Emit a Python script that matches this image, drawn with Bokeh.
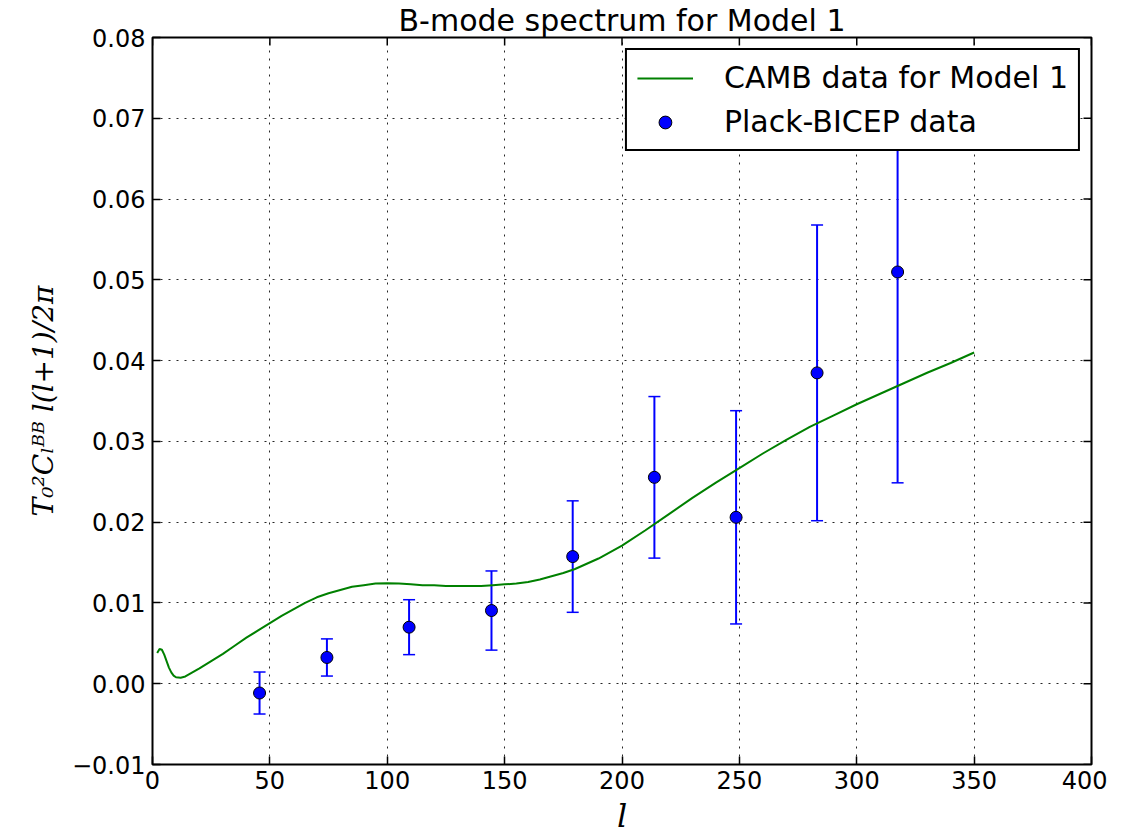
import math
from bokeh.plotting import figure
from bokeh.models import (ColumnDataSource, Whisker, TeeHead, FixedTicker,
                          CustomJSTickFormatter, Range1d, Legend, LegendItem)
from bokeh.embed import file_html
from bokeh.resources import INLINE

# CAMB theory curve for Model 1
camb_l = [2, 3, 4, 5, 6, 7, 8, 9, 10, 12, 14, 17, 20, 25, 30, 35, 40, 45, 50, 55, 60, 65,
          70, 75, 80, 85, 90, 95, 100, 105, 110, 115, 120, 125, 130, 135, 140, 145, 150,
          155, 160, 165, 170, 175, 180, 190, 200, 210, 220, 230, 240, 250, 260, 270, 280,
          290, 300, 310, 320, 330, 340, 350]
camb_dl = [0.0038, 0.0043, 0.0042, 0.0036, 0.0028, 0.0020, 0.0014, 0.0010, 0.0008, 0.00075,
           0.0009, 0.0014, 0.0019, 0.0028, 0.0037, 0.0047, 0.0057, 0.0066, 0.0075, 0.0084,
           0.0092, 0.0100, 0.0107, 0.0112, 0.0116, 0.0120, 0.0122, 0.0124, 0.01245, 0.0124,
           0.0123, 0.0122, 0.0122, 0.0121, 0.0121, 0.0121, 0.0121, 0.0122, 0.0123, 0.0124,
           0.0126, 0.0129, 0.0133, 0.0137, 0.0142, 0.0155, 0.0171, 0.0190, 0.0210, 0.0230,
           0.0249, 0.0267, 0.0285, 0.0302, 0.0318, 0.0332, 0.0346, 0.0359, 0.0372, 0.0385,
           0.0397, 0.0410]

# Planck-BICEP band powers
data_l = [45.6, 74.3, 109.3, 144.4, 179.0, 213.8, 248.6, 283.1, 317.4]
data_dl = [-0.00115, 0.00325, 0.0070, 0.00906, 0.01574, 0.02555, 0.0206, 0.03848, 0.05097]
data_err = [0.0026, 0.0023, 0.0034, 0.0049, 0.0069, 0.0100, 0.0132, 0.0183, 0.0261]

x_ticks = [0, 50, 100, 150, 200, 250, 300, 350, 400]
y_ticks = [-0.01, 0.0, 0.01, 0.02, 0.03, 0.04, 0.05, 0.06, 0.07, 0.08]
x_min, x_max = 0, 400
y_min, y_max = -0.01, 0.08

title_text = "B-mode spectrum for Model 1"
x_label = "l"
y_label = "T\u2080\u00b2C\u2097\u1d2e\u1d2e l(l+1)/2\u03c0"
curve_label = "CAMB data for Model 1"
data_label = "Plack-BICEP data"

FONT = "DejaVu Sans"

p = figure(frame_width=939, frame_height=727,
           x_range=Range1d(x_min, x_max), y_range=Range1d(y_min, y_max),
           output_backend="svg", toolbar_location=None,
           min_border_left=152, min_border_right=16, min_border_top=0, min_border_bottom=0,
           title=title_text)
p.background_fill_color = "white"
p.border_fill_color = "white"
p.outline_line_color = "black"
p.outline_line_width = 2

p.title.text_font = FONT
p.title.text_font_size = "30px"
p.title.text_font_style = "normal"
p.title.text_color = "black"
p.title.align = "center"
p.title.standoff = 0

y_fmt = CustomJSTickFormatter(code="return (tick < -1e-9 ? '\u2212' : '') + Math.abs(tick).toFixed(2);")

def style_axis(ax):
    ax.axis_line_color = None
    ax.major_tick_in = 8
    ax.major_tick_out = 0
    ax.major_tick_line_color = "black"
    ax.major_tick_line_width = 1.5
    ax.minor_tick_line_color = None
    ax.major_label_text_font = FONT
    ax.major_label_text_color = "black"
    ax.major_label_text_font_size = "24px"
    ax.axis_label_text_color = "black"

xax = p.xaxis[0]
xax.ticker = FixedTicker(ticks=x_ticks)
style_axis(xax)
xax.major_label_standoff = 6
xax.axis_label = x_label
xax.axis_label_text_font = "DejaVu Serif"
xax.axis_label_text_font_style = "italic"
xax.axis_label_text_font_size = "32px"
xax.axis_label_standoff = 5

yax = p.yaxis[0]
yax.ticker = FixedTicker(ticks=y_ticks)
yax.formatter = y_fmt
style_axis(yax)
yax.major_label_standoff = 7
yax.axis_label = y_label
yax.axis_label_text_font = "DejaVu Serif"
yax.axis_label_text_font_style = "italic"
yax.axis_label_text_font_size = "28px"
yax.axis_label_standoff = 9

for g, t in ((p.xgrid[0], x_ticks), (p.ygrid[0], y_ticks)):
    g.ticker = FixedTicker(ticks=t)
    g.grid_line_color = "black"
    g.grid_line_dash = "2 6"
    g.grid_line_width = 1
    g.grid_line_alpha = 0.85

# inward ticks on the top and right frame edges (clipped to the frame)
p.scatter(x_ticks, [y_max] * len(x_ticks), marker="dash", size=16, angle=math.pi / 2,
          line_color="black", line_width=1.5)
p.scatter([x_max] * len(y_ticks), y_ticks, marker="dash", size=16,
          line_color="black", line_width=1.5)

curve = p.line(camb_l, camb_dl, line_color="#008000", line_width=2)

src = ColumnDataSource(dict(
    x=data_l, y=data_dl,
    lower=[v - e for v, e in zip(data_dl, data_err)],
    upper=[v + e for v, e in zip(data_dl, data_err)],
))
whisk = Whisker(source=src, base="x", lower="lower", upper="upper",
                line_color="blue", line_width=2,
                upper_head=TeeHead(size=12, line_color="blue", line_width=1.5),
                lower_head=TeeHead(size=12, line_color="blue", line_width=1.5))
p.add_layout(whisk)
pts = p.scatter("x", "y", source=src, size=12, fill_color="blue",
                line_color="black", line_width=1)

legend = Legend(items=[LegendItem(label=curve_label, renderers=[curve]),
                       LegendItem(label=data_label, renderers=[pts])],
                location="top_right", margin=11, padding=10, spacing=9,
                glyph_width=56, glyph_height=32, label_height=32, label_standoff=31,
                label_text_font=FONT, label_text_font_size="30px", label_text_color="black",
                border_line_color="black", border_line_width=2, border_line_alpha=1,
                background_fill_color="white", background_fill_alpha=1)
p.add_layout(legend, "center")

open("out.html", "w").write(file_html(p, INLINE))
